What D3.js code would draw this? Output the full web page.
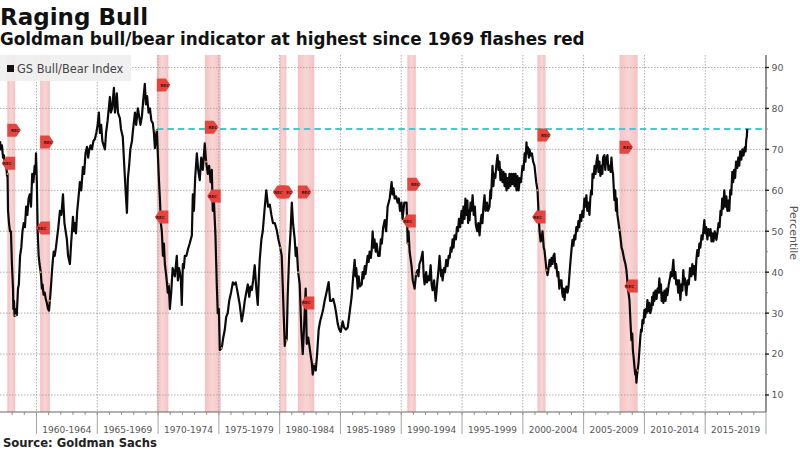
<!DOCTYPE html>
<html>
<head>
<meta charset="utf-8">
<script src="https://cdn.jsdelivr.net/npm/d3@7"></script>
<style>
  html, body { margin: 0; padding: 0; background: #fff; }
  svg { display: block; font-family: "DejaVu Sans", sans-serif; }
</style>
</head>
<body>
<svg id="chart"></svg>
<script>
const titleText = "Raging Bull";
const subtitleText = "Goldman bull/bear indicator at highest since 1969 flashes red";
const sourceText = "Source: Goldman Sachs";
const legendText = "GS Bull/Bear Index";

// Readings: [year, percentile]
const indexValues = [
  [1957.00,72],[1957.08,70],[1957.16,71],[1957.25,68],[1957.33,68.5],[1957.41,66],[1957.50,66.5],[1957.58,63.5],[1957.62,64],[1957.66,55],
  [1957.74,52],[1957.82,50],[1957.90,50],[1957.98,42],[1958.07,36],[1958.10,31],[1958.15,33],[1958.20,29.3],[1958.27,29.5],[1958.32,31],
  [1958.38,29.5],[1958.48,36],[1958.55,37],[1958.65,44],[1958.75,46],[1958.85,50],[1958.95,52],[1959.05,51],[1959.15,56],[1959.25,54],
  [1959.35,58],[1959.45,59],[1959.55,56],[1959.65,64],[1959.75,62],[1959.85,66],[1959.92,64],[1959.96,69],[1960.03,62],[1960.10,50],
  [1960.18,44],[1960.25,42],[1960.35,40],[1960.45,36],[1960.50,37],[1960.58,34.5],[1960.68,35],[1960.76,33.5],[1960.85,32.5],[1960.95,31],
  [1961.03,30.6],[1961.10,33],[1961.18,36],[1961.27,40],[1961.35,43],[1961.42,45],[1961.50,44],[1961.60,46],[1961.68,48],[1961.80,51],
  [1961.93,55],[1962.05,54],[1962.18,59],[1962.30,52],[1962.40,50],[1962.50,48],[1962.60,44],[1962.75,42],[1962.85,47],[1963.00,53.5],
  [1963.08,50],[1963.17,52],[1963.25,49.5],[1963.35,55],[1963.45,58],[1963.57,62],[1963.68,60],[1963.82,65.7],[1963.92,64],[1964.03,69],
  [1964.15,70.6],[1964.25,68],[1964.35,70],[1964.45,71],[1964.56,70],[1964.68,72],[1964.80,72.5],[1964.92,74],[1965.03,76],[1965.13,79],
  [1965.22,74],[1965.32,76],[1965.42,72],[1965.52,71],[1965.63,70],[1965.72,74],[1965.85,77],[1966.04,82.8],[1966.12,79],[1966.22,80],
  [1966.37,85],[1966.45,79],[1966.53,81],[1966.61,83.7],[1966.70,79],[1966.86,77.6],[1966.95,75],[1967.10,73],[1967.22,66],[1967.33,60],
  [1967.44,54.5],[1967.52,63],[1967.62,66],[1967.72,70],[1967.85,72],[1967.95,75],[1968.10,79],[1968.20,76],[1968.34,80],[1968.45,78],
  [1968.55,76],[1968.67,78],[1968.78,82],[1968.91,86],[1969.00,81],[1969.10,83],[1969.22,79],[1969.33,80],[1969.45,77],[1969.57,76.4],
  [1969.66,74],[1969.74,70.3],[1969.82,73],[1969.90,74.7],[1969.98,69],[1970.08,62],[1970.15,58],[1970.23,52],[1970.31,50],[1970.40,44],
  [1970.48,47],[1970.56,42],[1970.68,39],[1970.80,35],[1970.88,37],[1970.97,31],[1971.08,35],[1971.20,41],[1971.30,40],[1971.38,39],
  [1971.54,44],[1971.63,38],[1971.72,41],[1971.79,40],[1971.88,38],[1971.95,32],[1972.04,42],[1972.12,41],[1972.20,44],[1972.33,44],
  [1972.45,45.5],[1972.60,47],[1972.78,49],[1972.86,59],[1972.95,55],[1973.05,63],[1973.19,69],[1973.30,65],[1973.43,62.5],[1973.55,68],
  [1973.68,65],[1973.84,71.5],[1973.95,67],[1974.09,64],[1974.20,66],[1974.32,62],[1974.42,65],[1974.50,55],[1974.60,57],[1974.72,49],
  [1974.83,37],[1974.91,30],[1975.00,31],[1975.08,21],[1975.24,21.5],[1975.36,24],[1975.49,26],[1975.60,29],[1975.73,30],[1975.85,33],
  [1976.00,35],[1976.15,37.5],[1976.25,37],[1976.39,37.5],[1976.56,34.8],[1976.72,32],[1976.88,28],[1977.00,30],[1977.13,33],[1977.25,35],
  [1977.38,37],[1977.50,34],[1977.60,36.5],[1977.71,35.6],[1977.82,38],[1977.95,41.7],[1978.08,36],[1978.20,32],[1978.28,38],[1978.36,43],
  [1978.50,48],[1978.61,50],[1978.75,55],[1978.90,60],[1979.05,56],[1979.19,56.5],[1979.32,54],[1979.45,52],[1979.60,52],[1979.76,50.3],
  [1979.90,48],[1980.05,46],[1980.17,44],[1980.25,37],[1980.33,30],[1980.42,22],[1980.50,24],[1980.58,23.4],[1980.66,34],[1980.78,44],
  [1980.90,50],[1981.00,57],[1981.10,52],[1981.24,48],[1981.32,44],[1981.40,46],[1981.52,40],[1981.65,37],[1981.78,26],[1981.90,20],
  [1982.00,26],[1982.14,36],[1982.23,22.5],[1982.35,24],[1982.47,21.5],[1982.56,19.5],[1982.64,18],[1982.72,15],[1982.85,17.5],[1982.97,16],
  [1983.08,20],[1983.21,26],[1983.33,28],[1983.46,29.5],[1983.58,31],[1983.70,33],[1983.85,35],[1984.03,37.6],[1984.15,33],[1984.28,33],
  [1984.40,33.5],[1984.53,32],[1984.65,30],[1984.77,27.5],[1984.90,26],[1985.02,25.4],[1985.18,28],[1985.30,26.5],[1985.45,26],[1985.60,26.5],
  [1985.75,30],[1985.92,34],[1986.05,39],[1986.17,43],[1986.24,39],[1986.30,41],[1986.42,36],[1986.50,39],[1986.60,36.5],[1986.75,37],
  [1986.82,40],[1986.90,38.5],[1987.00,41.5],[1987.06,39.5],[1987.12,41],[1987.24,44],[1987.32,42.5],[1987.40,45],[1987.50,43.5],[1987.57,45.4],
  [1987.65,50],[1987.72,46],[1987.80,48],[1987.90,45],[1987.98,47],[1988.10,44],[1988.22,44],[1988.32,48],[1988.40,47],[1988.52,51],
  [1988.64,52.7],[1988.76,50],[1988.88,56],[1989.05,58],[1989.21,62],[1989.28,59],[1989.36,60.5],[1989.46,58],[1989.58,58.5],[1989.70,57],
  [1989.80,58],[1989.90,55],[1990.02,57],[1990.11,53],[1990.25,57],[1990.44,57],[1990.53,47],[1990.60,50],[1990.69,45],[1990.85,41.5],
  [1990.95,38],[1991.10,36],[1991.22,39.5],[1991.35,40.5],[1991.42,39],[1991.50,42],[1991.62,43],[1991.76,45],[1991.85,39],[1991.92,37],
  [1992.05,40],[1992.12,37.5],[1992.20,39],[1992.30,38],[1992.42,41.7],[1992.50,37],[1992.58,35.6],[1992.70,38],[1992.76,35.5],[1992.83,33],
  [1992.98,38],[1993.08,41],[1993.15,44],[1993.28,39],[1993.34,40.5],[1993.40,38],[1993.52,41],[1993.60,40],[1993.70,43],[1993.81,41.5],
  [1993.90,44],[1993.98,43.5],[1994.07,46],[1994.14,45],[1994.22,48],[1994.30,46],[1994.38,49],[1994.50,48],[1994.58,51],[1994.66,50],
  [1994.75,53],[1994.84,51],[1994.96,55],[1995.04,52],[1995.12,56],[1995.20,53],[1995.28,58],[1995.37,54],[1995.44,57.5],[1995.50,52],
  [1995.56,55],[1995.62,52.7],[1995.70,57],[1995.78,55],[1995.87,58.8],[1995.96,54],[1996.05,56],[1996.14,51.5],[1996.25,50],[1996.34,52],
  [1996.44,49],[1996.52,52],[1996.60,54],[1996.68,52],[1996.76,56],[1996.85,58.8],[1996.94,55],[1997.05,57],[1997.14,55],[1997.26,56],
  [1997.33,60],[1997.38,58],[1997.46,63],[1997.51,66],[1997.58,61],[1997.65,64],[1997.74,63],[1997.82,66],[1997.92,68.6],[1998.00,65],
  [1998.08,67],[1998.16,62.5],[1998.24,65],[1998.33,62],[1998.41,64.5],[1998.50,61],[1998.58,64],[1998.66,60],[1998.74,63],[1998.82,60.5],
  [1998.90,64],[1998.98,61],[1999.07,64],[1999.15,61.5],[1999.24,64],[1999.32,61],[1999.40,64],[1999.48,60],[1999.56,63.5],[1999.65,60],
  [1999.75,63],[1999.85,62],[1999.97,66],[2000.06,65],[2000.15,69],[2000.22,67],[2000.30,71.7],[2000.36,69],[2000.42,70.5],[2000.50,68],
  [2000.55,70],[2000.65,68.5],[2000.75,69],[2000.85,67],[2000.96,66],[2001.10,62],[2001.21,60],[2001.30,54],[2001.37,50.3],[2001.46,47.5],
  [2001.54,48],[2001.62,50],[2001.72,46],[2001.78,45.4],[2001.95,40.5],[2002.03,39.3],[2002.12,41],[2002.20,43],[2002.28,41.5],[2002.36,43.5],
  [2002.44,42],[2002.52,44],[2002.60,44.5],[2002.68,41],[2002.75,42],[2002.85,39],[2002.92,40],[2003.00,36],[2003.08,38],[2003.18,38],
  [2003.24,35],[2003.30,34],[2003.36,36],[2003.43,33.2],[2003.50,35.5],[2003.59,36.5],[2003.68,35],[2003.76,36.5],[2003.90,42],[2004.00,45.4],
  [2004.08,47.9],[2004.16,46.5],[2004.24,49],[2004.32,48],[2004.40,51],[2004.49,50],[2004.57,52.5],[2004.64,51],[2004.72,54],[2004.80,52.5],
  [2004.90,55],[2004.98,53.5],[2005.06,58],[2005.14,56],[2005.23,58.8],[2005.30,55],[2005.38,57],[2005.48,54],[2005.55,58],[2005.62,60],
  [2005.68,59],[2005.73,64],[2005.82,63],[2005.90,66],[2005.98,64],[2006.06,67],[2006.14,68.6],[2006.22,64.5],[2006.30,67],[2006.38,63.5],
  [2006.47,66],[2006.54,64],[2006.60,68],[2006.71,68.6],[2006.78,65],[2006.85,67.5],[2006.96,68.6],[2007.04,65],[2007.15,66],[2007.22,64.5],
  [2007.29,68],[2007.36,65],[2007.42,64],[2007.53,57.6],[2007.60,60],[2007.66,55],[2007.72,58],[2007.78,54],[2007.95,50.3],[2008.05,48],
  [2008.12,46],[2008.19,45.4],[2008.28,44],[2008.35,43],[2008.44,42],[2008.52,40.5],[2008.65,36],[2008.77,33.2],[2008.85,28],[2008.93,23.4],
  [2009.00,25],[2009.05,21],[2009.12,19],[2009.18,17],[2009.25,15],[2009.30,16],[2009.34,13],[2009.40,15],[2009.45,16],[2009.52,18],
  [2009.59,21],[2009.66,24],[2009.72,26],[2009.78,25.5],[2009.84,28.3],[2009.92,27.5],[2010.00,30.8],[2010.06,29],[2010.12,31],[2010.18,30],
  [2010.25,33.2],[2010.32,30.5],[2010.40,32.5],[2010.48,30],[2010.57,31],[2010.64,34],[2010.70,32],[2010.76,35],[2010.82,33],[2010.90,35.5],
  [2011.00,33.5],[2011.08,36],[2011.16,35],[2011.23,38.5],[2011.30,35],[2011.36,37],[2011.42,33],[2011.48,35],[2011.56,32.5],[2011.65,35.5],
  [2011.74,33],[2011.82,36],[2011.89,34.4],[2012.00,37],[2012.10,38.5],[2012.18,40],[2012.26,39],[2012.38,43],[2012.46,38.5],[2012.55,40],
  [2012.62,37],[2012.71,38],[2012.78,35],[2012.85,38],[2012.96,33.2],[2013.04,37],[2013.12,35.5],[2013.20,40.5],[2013.27,37],[2013.33,38.5],
  [2013.40,35.5],[2013.45,34.4],[2013.55,38],[2013.65,37],[2013.75,41],[2013.86,39],[2013.94,42],[2014.02,39.5],[2014.10,41.5],[2014.19,38.1],
  [2014.27,43],[2014.35,45.4],[2014.44,44],[2014.52,47],[2014.60,46],[2014.70,49],[2014.78,48],[2014.93,52.7],[2015.00,49.5],[2015.08,51],
  [2015.18,48],[2015.26,50.5],[2015.35,49],[2015.44,50.5],[2015.52,47.5],[2015.59,49.5],[2015.68,47.5],[2015.78,50],[2015.92,47.9],[2016.02,50],
  [2016.10,52],[2016.18,51],[2016.26,55],[2016.33,54],[2016.40,58],[2016.48,55.5],[2016.57,60],[2016.65,56],[2016.74,58.5],[2016.82,55],
  [2016.90,57.5],[2016.98,55],[2017.06,60],[2017.14,59],[2017.23,64.5],[2017.30,62],[2017.38,65],[2017.46,63],[2017.54,67],[2017.64,65.5],
  [2017.72,68],[2017.80,66],[2017.88,69.5],[2017.97,67.5],[2018.06,70],[2018.15,68.5],[2018.25,70.5],[2018.32,69.5],[2018.38,72.5],[2018.42,73],
  [2018.46,75]
];

const recessionStart = [1957.6, 1960.3, 1969.9, 1973.85, 1980.0, 1981.5, 1990.5, 2001.2, 2007.95];
const recessionEnd = [1958.25, 1961.1, 1970.85, 1975.15, 1980.55, 1982.85, 1991.2, 2001.87, 2009.45];
const startFlagValue = [74.7, 71.8, 85.7, 75.4, 59.6, 59.6, 61.5, 73.5, 70.5];
const endFlagValue = [66.6, 50.8, 53.5, 58.6, 59.6, 32.5, 52.5, 53.5, 36.6];

const periodStarts = [1960, 1965, 1970, 1975, 1980, 1985, 1990, 1995, 2000, 2005, 2010, 2015];
const periodLabels = ["1960-1964", "1965-1969", "1970-1974", "1975-1979", "1980-1984", "1985-1989",
  "1990-1994", "1995-1999", "2000-2004", "2005-2009", "2010-2014", "2015-2019"];
const yTicks = [10, 20, 30, 40, 50, 60, 70, 80, 90];
const yMinorTicks = [15, 25, 35, 45, 55, 65, 75, 85];
const threshold = 75;

const width = 800, height = 450;
const svg = d3.select("#chart").attr("width", width).attr("height", height);

const plotTop = 55, plotBottom = 412, plotRight = 766;
const x = d3.scaleLinear().domain([1957, 2020]).range([0, plotRight]);
const y = d3.scaleLinear().domain([10, 90]).range([395, 67.5]);

// Titles
svg.append("text").attr("x", 0).attr("y", 24.5).attr("font-size", 23).attr("font-weight", "bold")
  .attr("fill", "#111").text(titleText);
svg.append("text").attr("x", 0).attr("y", 45).attr("font-size", 16.8).attr("font-weight", "bold")
  .attr("fill", "#111").text(subtitleText);

// Bands are a bit lighter down the middle
const grad = svg.append("defs").append("linearGradient").attr("id", "bandFill");
grad.append("stop").attr("offset", "0%").attr("stop-color", "#f5c2c2");
grad.append("stop").attr("offset", "50%").attr("stop-color", "#f9d5d5");
grad.append("stop").attr("offset", "100%").attr("stop-color", "#f5c2c2");

svg.selectAll("rect.band").data(recessionStart).join("rect").attr("class", "band")
  .attr("x", d => x(d)).attr("y", plotTop)
  .attr("width", (d, i) => x(recessionEnd[i]) - x(d))
  .attr("height", plotBottom - plotTop)
  .attr("fill", "url(#bandFill)");

// Grid
svg.selectAll("line.hgrid").data(yTicks).join("line").attr("class", "hgrid")
  .attr("x1", 0).attr("x2", plotRight).attr("y1", d => y(d)).attr("y2", d => y(d))
  .attr("stroke", "#999").attr("stroke-width", 0.8).attr("stroke-dasharray", "1.5,1.5");
svg.selectAll("line.vgrid").data(periodStarts).join("line").attr("class", "vgrid")
  .attr("x1", d => x(d)).attr("x2", d => x(d)).attr("y1", plotTop).attr("y2", plotBottom)
  .attr("stroke", "#999").attr("stroke-width", 0.8).attr("stroke-dasharray", "1.5,1.5");

// Threshold line
svg.append("line")
  .attr("x1", x(1969.9)).attr("x2", plotRight - 3)
  .attr("y1", y(threshold)).attr("y2", y(threshold))
  .attr("stroke", "#45c9cf").attr("stroke-width", 2).attr("stroke-dasharray", "6.5,4");

// Index line
const line = d3.line().x(d => x(d[0])).y(d => y(d[1]));
svg.append("path").datum(indexValues).attr("d", line)
  .attr("fill", "none").attr("stroke", "#0a0a0a").attr("stroke-width", 2.2).attr("stroke-linejoin", "round");

// Small amber marks where the line crosses a recession edge
const bisect = d3.bisector(d => d[0]).left;
const edgeValue = t => indexValues[Math.min(bisect(indexValues, t), indexValues.length - 1)];
svg.selectAll("circle.edge").data(recessionStart.concat(recessionEnd)).join("circle").attr("class", "edge")
  .attr("cx", d => x(edgeValue(d)[0])).attr("cy", d => y(edgeValue(d)[1]))
  .attr("r", 1).attr("fill", "#d8a03a");

// REC flags
const flagW = 9, flagTip = 4.5, flagH = 6.5;
function flagPath(px, py, dir) {
  // dir 1: body starts at px and points right, dir -1: body ends at px and points left
  const body = px + dir * flagW, tip = body + dir * flagTip;
  return d3.line()([[px, py - flagH], [body, py - flagH], [tip, py], [body, py + flagH], [px, py + flagH]]);
}
function addFlags(dates, values, dir, cls) {
  const g = svg.selectAll("g." + cls).data(dates).join("g").attr("class", cls);
  g.append("path")
    .attr("d", (d, i) => flagPath(x(d), y(values[i]), dir) + "Z")
    .attr("fill", "#e4453f");
  g.append("text")
    .attr("x", d => x(d) + dir * 8)
    .attr("y", (d, i) => y(values[i]) + 1.6)
    .attr("text-anchor", "middle").attr("font-size", 4).attr("font-weight", "bold")
    .attr("fill", "#4a0d0d").text("REC");
}
addFlags(recessionStart, startFlagValue, 1, "flagStart");
addFlags(recessionEnd, endFlagValue, -1, "flagEnd");

// Legend
svg.append("rect").attr("x", 0).attr("y", plotTop).attr("width", 131).attr("height", 26)
  .attr("fill", "#efefef").attr("fill-opacity", 0.92);
svg.append("rect").attr("x", 7).attr("y", 65).attr("width", 7).attr("height", 7).attr("fill", "#111");
svg.append("text").attr("x", 17).attr("y", 73).attr("font-size", 11.4).attr("fill", "#444").text(legendText);

// X axis
svg.append("line").attr("x1", 0).attr("x2", plotRight).attr("y1", plotBottom).attr("y2", plotBottom)
  .attr("stroke", "#666").attr("stroke-width", 1.2);
svg.selectAll("line.xminor").data(d3.range(1958, 2020)).join("line").attr("class", "xminor")
  .attr("x1", d => x(d)).attr("x2", d => x(d)).attr("y1", plotBottom).attr("y2", plotBottom + 3)
  .attr("stroke", "#777").attr("stroke-width", 0.8);
svg.selectAll("line.xsep").data(periodStarts.concat([2020])).join("line").attr("class", "xsep")
  .attr("x1", d => x(d)).attr("x2", d => x(d)).attr("y1", plotBottom).attr("y2", 434)
  .attr("stroke", "#999").attr("stroke-width", 0.9);
svg.selectAll("text.xlabel").data(periodLabels).join("text").attr("class", "xlabel")
  .attr("x", (d, i) => x(periodStarts[i] + 2.5)).attr("y", 432.5)
  .attr("text-anchor", "middle").attr("font-size", 9).attr("fill", "#555").text(d => d);

// Y axis on the right
svg.append("line").attr("x1", plotRight).attr("x2", plotRight).attr("y1", plotTop).attr("y2", plotBottom)
  .attr("stroke", "#666").attr("stroke-width", 1.4);
svg.selectAll("line.ymajor").data(yTicks).join("line").attr("class", "ymajor")
  .attr("x1", plotRight - 1).attr("x2", plotRight + 3).attr("y1", d => y(d)).attr("y2", d => y(d))
  .attr("stroke", "#222").attr("stroke-width", 1.4);
svg.selectAll("line.yminor").data(yMinorTicks).join("line").attr("class", "yminor")
  .attr("x1", plotRight).attr("x2", plotRight + 2).attr("y1", d => y(d)).attr("y2", d => y(d))
  .attr("stroke", "#777").attr("stroke-width", 0.8);
svg.selectAll("text.ylabel").data(yTicks).join("text").attr("class", "ylabel")
  .attr("x", plotRight + 5.5).attr("y", d => y(d) + 3.4)
  .attr("font-size", 9.4).attr("fill", "#555").text(d => d);
svg.append("text").attr("transform", `translate(790,233) rotate(90)`)
  .attr("text-anchor", "middle").attr("font-size", 11).attr("fill", "#555").text("Percentile");

// Source
svg.append("text").attr("x", 3).attr("y", 447).attr("font-size", 11.6).attr("font-weight", "bold")
  .attr("fill", "#222").text(sourceText);
</script>
</body>
</html>
